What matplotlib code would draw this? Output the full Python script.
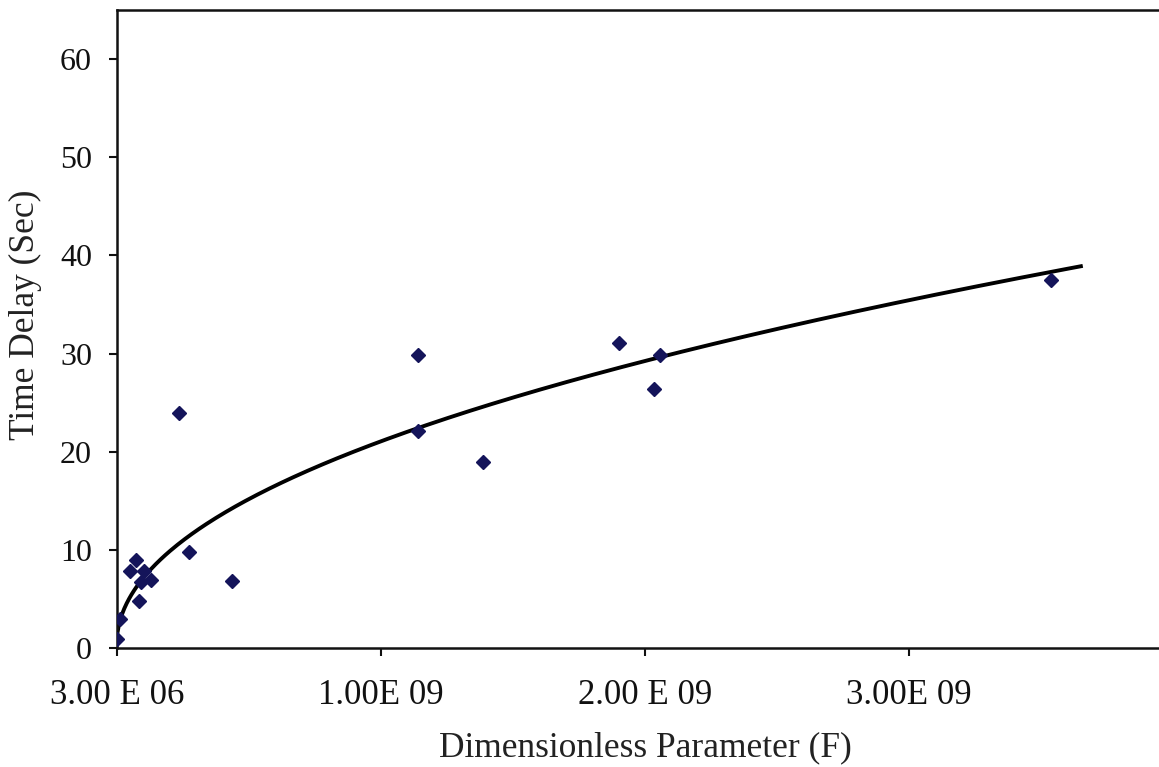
import numpy as np
import matplotlib
matplotlib.use("Agg")
import matplotlib.pyplot as plt

# Data (x in units of F, y in seconds)
f_values = [3.0e6, 0.014e9, 0.054e9, 0.074e9, 0.087e9, 0.093e9, 0.106e9, 0.130e9,
            0.239e9, 0.277e9, 0.438e9, 1.144e9, 1.144e9, 1.390e9, 1.905e9,
            2.038e9, 2.061e9, 3.540e9]
delay_values = [0.95, 3.0, 7.8, 9.0, 4.8, 6.7, 7.8, 6.9,
                23.9, 9.75, 6.85, 29.9, 22.1, 18.9, 31.1,
                26.4, 29.9, 37.5]

x_ticks = [3.0e6, 1.003e9, 2.003e9, 3.003e9]
x_tick_labels = ["3.00 E 06", "1.00E 09", "2.00 E 09", "3.00E 09"]
y_ticks = [0, 10, 20, 30, 40, 50, 60]
trend_x_end = 3.654e9

plt.rcParams['font.family'] = ['Liberation Serif', 'DejaVu Serif']

fig = plt.figure(figsize=(11.59, 7.67), dpi=100)
ax = fig.add_axes([117/1159, 119/767, 1056/1159, (648-10)/767])

# power trendline: least squares in log-log space
xa = np.array(f_values)
ya = np.array(delay_values)
b, loga = np.polyfit(np.log(xa), np.log(ya), 1)
xt = np.linspace(xa.min(), trend_x_end, 400)
ax.plot(xt, np.exp(loga) * xt ** b, color='black', lw=2.8, zorder=2)

ax.plot(f_values, delay_values, linestyle='none', marker='D', markersize=7.5,
        color='#14145a', zorder=3)

ax.set_xlim(3.0e6, 4.003e9)
ax.set_ylim(0, 65)
ax.set_xticks(x_ticks)
ax.set_xticklabels(x_tick_labels)
ax.set_yticks(y_ticks)

ax.spines['right'].set_visible(False)
for s in ['left', 'top', 'bottom']:
    ax.spines[s].set_linewidth(1.8)
    ax.spines[s].set_color('#111111')

ax.tick_params(axis='both', direction='out', length=6, width=1.5, colors='#111111')
ax.tick_params(axis='x', pad=16, labelsize=25)
ax.tick_params(axis='y', pad=12, labelsize=23)

ax.set_xlabel('Dimensionless Parameter (F)', fontsize=25.5, color='#222222', labelpad=14)
ax.set_ylabel('Time Delay (Sec)', fontsize=25.5, color='#222222')
ax.yaxis.set_label_coords(-0.071, 0.522)

fig.savefig('out.png', dpi=100)
